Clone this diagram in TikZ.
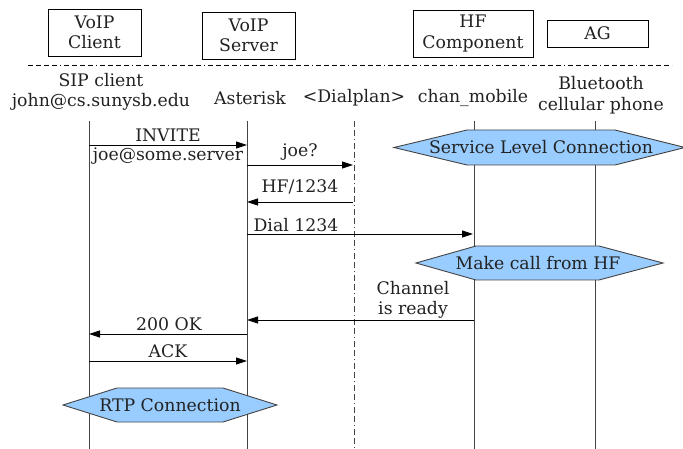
\documentclass[tikz,border=0pt]{standalone}
\usepackage{fontspec}
\setmainfont{DejaVu Serif}
\usetikzlibrary{arrows.meta,calc}
\definecolor{hexfill}{HTML}{99CCFF}
\definecolor{txt}{HTML}{222222}
\definecolor{lifeline}{HTML}{444444}
\pgfdeclarelayer{lines}
\pgfdeclarelayer{hexbg}
\pgfsetlayers{lines,hexbg,main}
\begin{document}
\begin{tikzpicture}[x=1pt,y=-1pt,
  font=\fontsize{17.3}{20.5}\selectfont, text=txt,
  hdr/.style={draw=black, line width=0.9pt, align=center, inner sep=0pt},
  lbl/.style={align=center, inner sep=0pt},
  life/.style={draw=lifeline, line width=0.9pt},
  dashdot/.style={draw=lifeline, line width=0.9pt, dash pattern=on 6pt off 3pt on 6pt off 3pt on 1pt off 3pt},
  sepline/.style={draw=black, line width=0.9pt, dash pattern=on 5pt off 3pt on 5pt off 3pt on 5pt off 3pt on 5pt off 3pt on 1pt off 3pt},
  msg/.style={draw=black, line width=0.8pt, -{Triangle[length=11pt,width=7pt]}},
  hextext/.style={inner sep=0pt},
  hexshape/.style={draw=lifeline, line width=0.9pt, fill=hexfill, line join=miter}
]
\useasboundingbox (0,0) rectangle (683,449);

% header boxes
\node[hdr, minimum width=93pt, minimum height=47pt] (hclient) at (94.5,32.5) {VoIP\\Client};
\node[hdr, minimum width=93pt, minimum height=47pt] (hserver) at (248.5,35.5) {VoIP\\Server};
\node[hdr, minimum width=120pt, minimum height=47pt] (hhf) at (473,33.5) {HF\\Component};
\node[hdr, minimum width=101pt, minimum height=27pt] (hag) at (597.5,33.5) {AG};

% separator
\coordinate (sepL) at (28,65);
\coordinate (sepR) at (672,65);
\draw[sepline] (sepL) -- (sepR);

% participant labels
\node[lbl] (lclient) at (101,92) {SIP client\\john@cs.sunysb.edu};
\node[lbl] (lserver) at (250,98) {Asterisk};
\node[lbl] (ldial) at (354,98) {<Dialplan>};
\node[lbl] (lmobile) at (473,98) {chan\_mobile};
\node[lbl] (lag) at (601,95) {Bluetooth\\cellular phone};

% lifelines
\coordinate (t1) at (89,121);  \coordinate (b1) at (89,449);
\coordinate (t2) at (247,121); \coordinate (b2) at (247,449);
\coordinate (t3) at (354,121); \coordinate (b3) at (354,449);
\coordinate (t4) at (474,121); \coordinate (b4) at (474,449);
\coordinate (t5) at (595,121); \coordinate (b5) at (595,449);
\begin{pgfonlayer}{lines}
\draw[life] (t1) -- (b1);
\draw[life] (t2) -- (b2);
\draw[dashdot] (t3) -- (b3);
\draw[life] (t4) -- (b4);
\draw[life] (t5) -- (b5);
\end{pgfonlayer}

% hexagons
\node[hextext] (slc) at (541,147.5) {Service Level Connection};
\node[hextext] (mcall) at (538,263) {Make call from HF};
\node[hextext] (rtp) at (170,405) {RTP Connection};
\begin{pgfonlayer}{hexbg}
\draw[hexshape] ($(slc.center)+(-74,-17.5)$) -- ($(slc.center)+(74,-17.5)$) -- ($(slc.center)+(144,0)$)
  -- ($(slc.center)+(74,17.5)$) -- ($(slc.center)+(-74,17.5)$) -- ($(slc.center)+(-147,0)$) -- cycle;
\draw[hexshape] ($(mcall.center)+(-62,-17)$) -- ($(mcall.center)+(61,-17)$) -- ($(mcall.center)+(125,0)$)
  -- ($(mcall.center)+(61,17)$) -- ($(mcall.center)+(-62,17)$) -- ($(mcall.center)+(-122,0)$) -- cycle;
\draw[hexshape] ($(rtp.center)+(-53,-17)$) -- ($(rtp.center)+(53,-17)$) -- ($(rtp.center)+(107,0)$)
  -- ($(rtp.center)+(53,17)$) -- ($(rtp.center)+(-53,17)$) -- ($(rtp.center)+(-107,0)$) -- cycle;
\end{pgfonlayer}

% message points
\coordinate (m1a) at (89,145);  \coordinate (m1b) at (247,145);
\coordinate (m2a) at (247,165); \coordinate (m2b) at (353,165);
\coordinate (m3a) at (353,202); \coordinate (m3b) at (247,202);
\coordinate (m4a) at (247,234); \coordinate (m4b) at (473,234);
\coordinate (m5a) at (474,320); \coordinate (m5b) at (247,320);
\coordinate (m6a) at (247,334); \coordinate (m6b) at (89,334);
\coordinate (m7a) at (89,361);  \coordinate (m7b) at (247,361);

\draw[msg] (m1a) -- (m1b);
\draw[msg] (m2a) -- (m2b);
\draw[msg] (m3a) -- (m3b);
\draw[msg] (m4a) -- (m4b);
\draw[msg] (m5a) -- (m5b);
\draw[msg] (m6a) -- (m6b);
\draw[msg] (m7a) -- (m7b);

% message labels
\node[lbl] (l1a) at (168,135) {INVITE};
\node[lbl] (l1b) at (168,156) {joe@some.server};
\node[lbl] (l2) at (300,152) {joe?};
\node[lbl] (l3) at (300,187) {HF/1234};
\node[lbl] (l4) at (296,225) {Dial 1234};
\node[lbl] (l5) at (413,300) {Channel\\is ready};
\node[lbl] (l6) at (169,324) {200 OK};
\node[lbl] (l7) at (168,351) {ACK};
\end{tikzpicture}
\end{document}
